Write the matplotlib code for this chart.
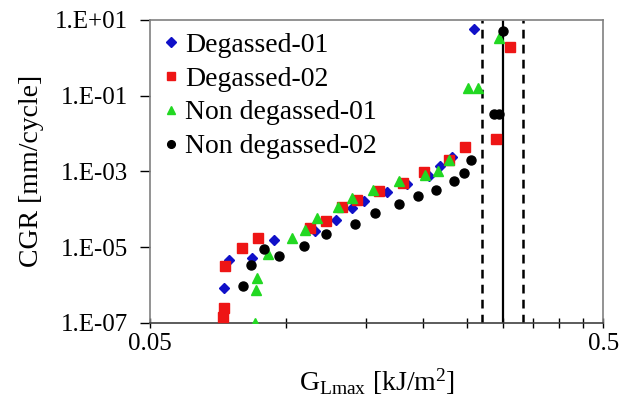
import matplotlib
matplotlib.use("Agg")
import matplotlib.pyplot as plt
from matplotlib.ticker import FixedLocator, FixedFormatter, NullFormatter

plt.rcParams["font.family"] = ["Liberation Serif", "DejaVu Serif"]
plt.rcParams["mathtext.fontset"] = "custom"
plt.rcParams["mathtext.rm"] = "Liberation Serif"
plt.rcParams["mathtext.it"] = "Liberation Serif:italic"

# data (G_Lmax in kJ/m2, CGR in mm/cycle)
deg01_g = [0.0729, 0.0745, 0.0838, 0.0939, 0.1157, 0.1287, 0.1396, 0.1484,
           0.1665, 0.1844, 0.2058, 0.2176, 0.2324, 0.2599]
deg01_c = [8.3e-7, 4.6e-6, 5.2e-6, 1.55e-5, 2.7e-5, 5.3e-5, 1.11e-4, 1.63e-4,
           2.83e-4, 4.53e-4, 7.4e-4, 1.36e-3, 2.39e-3, 5.78]

deg02_g = [0.0726, 0.0729, 0.0732, 0.0797, 0.0865, 0.1128, 0.1222, 0.1325,
           0.1432, 0.1604, 0.1812, 0.2013, 0.2278, 0.2471, 0.2898, 0.3116]
deg02_c = [1.44e-7, 2.45e-7, 3.24e-6, 9.3e-6, 1.75e-5, 3.23e-5, 5.0e-5, 1.18e-4,
           1.78e-4, 3.0e-4, 4.9e-4, 9.6e-4, 1.95e-3, 4.4e-3, 7.3e-3, 1.96]

nondeg01_g = [0.0853, 0.0856, 0.0863, 0.0912, 0.1027, 0.1099, 0.1170, 0.1296,
              0.1394, 0.1551, 0.1767, 0.2023, 0.2164, 0.2289, 0.2521, 0.2640, 0.2947]
nondeg01_c = [1.0e-7, 7.3e-7, 1.53e-6, 6.6e-6, 1.71e-5, 2.86e-5, 5.9e-5, 1.13e-4,
              1.93e-4, 3.14e-4, 5.5e-4, 8.2e-4, 1.02e-3, 2.04e-3, 0.155, 0.155, 3.27]

nondeg02_g = [0.0803, 0.0834, 0.0894, 0.0964, 0.1094, 0.1222, 0.1418, 0.1564,
              0.1767, 0.1946, 0.2139, 0.2345, 0.2467, 0.2560, 0.2864, 0.2951, 0.3012]
nondeg02_c = [9.5e-7, 3.3e-6, 8.95e-6, 5.7e-6, 1.08e-5, 2.24e-5, 4.1e-5, 7.9e-5,
              1.34e-4, 2.2e-4, 3.3e-4, 5.5e-4, 8.9e-4, 1.95e-3, 0.0324, 0.0324, 5.1]

g_lower = 0.27
g_mean = 0.30
g_upper = 0.333

x_ticks = [0.05, 0.5]
x_tick_labels = ["0.05", "0.5"]
x_minor = [0.1, 0.15, 0.2, 0.25, 0.3, 0.35, 0.4, 0.45]
y_ticks = [1e-7, 1e-5, 1e-3, 1e-1, 1e1]
y_tick_labels = ["1.E-07", "1.E-05", "1.E-03", "1.E-01", "1.E+01"]

fig = plt.figure(figsize=(6.2, 3.99), dpi=100)
ax = fig.add_axes([0.242, 0.191, 0.731, 0.759])

ax.axvline(g_lower, color="k", ls=(0, (3.5, 2.5)), lw=1.8, zorder=1)
ax.axvline(g_mean, color="k", ls="-", lw=1.6, zorder=1)
ax.axvline(g_upper, color="k", ls=(0, (3.5, 2.5)), lw=1.8, zorder=1)

ax.plot(deg01_g, deg01_c, "D", color="#1010C8", ms=5.5, lw=0, label="Degassed-01", zorder=3)
ax.plot(deg02_g, deg02_c, "s", color="#EE1515", ms=6.5, lw=0, label="Degassed-02", zorder=3)
ax.plot(nondeg01_g, nondeg01_c, "^", color="#22D822", ms=7.5, lw=0, label="Non degassed-01", zorder=3)
ax.plot(nondeg02_g, nondeg02_c, "o", color="k", ms=6.5, lw=0, label="Non degassed-02", zorder=3)

ax.set_xscale("log")
ax.set_yscale("log")
ax.set_xlim(0.05, 0.5)
ax.set_ylim(1e-7, 1e1)

ax.xaxis.set_major_locator(FixedLocator(x_ticks))
ax.xaxis.set_major_formatter(FixedFormatter(x_tick_labels))
ax.xaxis.set_minor_locator(FixedLocator(x_minor))
ax.xaxis.set_minor_formatter(NullFormatter())
ax.yaxis.set_major_locator(FixedLocator(y_ticks))
ax.yaxis.set_major_formatter(FixedFormatter(y_tick_labels))
ax.yaxis.set_minor_locator(FixedLocator([]))

ax.tick_params(axis="x", which="both", direction="inout", length=7, width=1, labelsize=18, pad=4)
ax.tick_params(axis="y", which="major", direction="out", length=7, width=1, labelsize=18, pad=9)

for s in ax.spines.values():
    s.set_color("#808080")
    s.set_linewidth(1.2)
ax.spines["bottom"].set_color("#404040")

ax.set_xlabel(r"G$_{\mathrm{Lmax}}$ [kJ/m$^{2}$]", fontsize=20, labelpad=8)
ax.set_ylabel("CGR [mm/cycle]", fontsize=20, labelpad=8)

ax.legend(loc="upper left", frameon=False, fontsize=20, handlelength=0.6,
          handletextpad=0.2, labelspacing=0.3, borderaxespad=0.35,
          borderpad=0.1, markerscale=0.85)

fig.savefig("out.png", dpi=100)
